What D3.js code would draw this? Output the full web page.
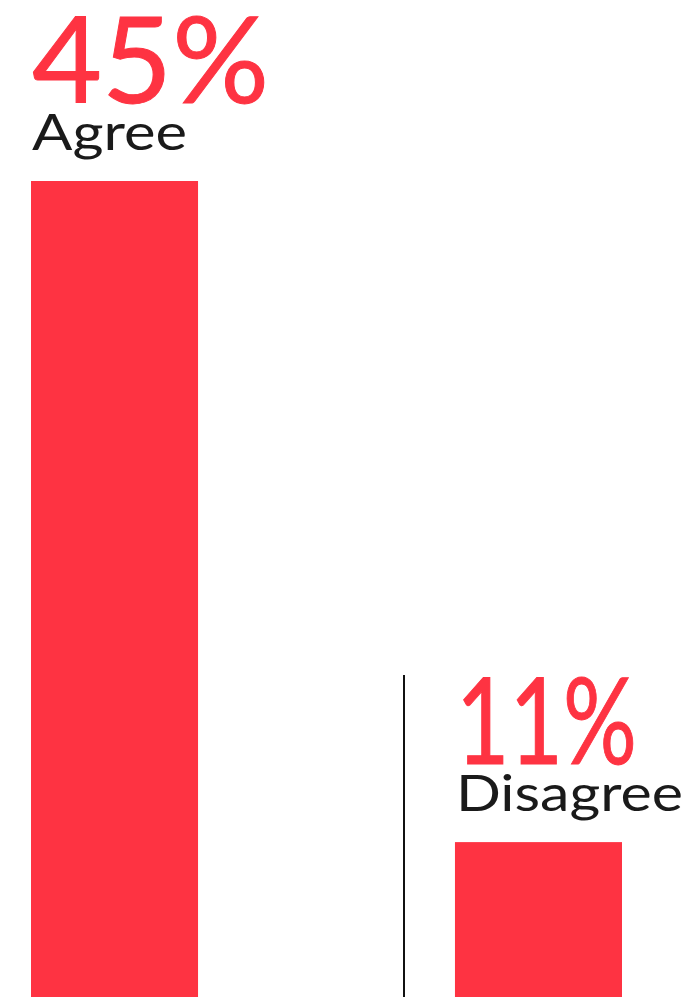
<!DOCTYPE html>
<html>
<head>
<meta charset="utf-8">
<script src="https://cdn.jsdelivr.net/npm/d3@7"></script>
<style>
  html, body { margin: 0; padding: 0; background: #fff; overflow: hidden; }
  svg { display: block; }
  text { font-family: Lato, "Open Sans", sans-serif; }
</style>
</head>
<body>
<svg id="chart" width="698" height="997"></svg>
<script>
// Survey response shares
const categories = ["Agree", "Disagree"];
const values = [45, 11];
const valueLabels = ["45%", "11%"];

const W = 698, H = 997;
const red = "#fe3342";
const ink = "#1a1a1a";

const svg = d3.select("#chart");

// Bars share a baseline that sits below the visible frame
const x = d3.scaleBand().domain(categories).range([31, 622]).paddingInner(0.606).paddingOuter(0);
const y = d3.scaleLinear().domain([0, 45]).range([1056, 181]);

svg.append("g").selectAll("rect")
  .data(categories)
  .join("rect")
  .attr("x", d => x(d))
  .attr("y", (d, i) => y(values[i]))
  .attr("width", x.bandwidth())
  .attr("height", (d, i) => y(0) - y(values[i]))
  .attr("fill", red);

// Divider between the two groups
svg.append("line")
  .attr("x1", 404).attr("x2", 404)
  .attr("y1", 675).attr("y2", H)
  .attr("stroke", "#111").attr("stroke-width", 2);

// Value and category labels stacked above each bar
const labels = svg.append("g").selectAll("g")
  .data(categories)
  .join("g")
  .attr("transform", (d, i) => `translate(${x(d) + 1},${y(values[i])})`);

const valueWidths = [237, 181];
const catWidths = [155, 227];

labels.append("text")
  .attr("y", -78)
  .attr("font-size", 120)
  .attr("fill", red)
  .attr("stroke", red)
  .attr("stroke-width", 1)
  .attr("textLength", (d, i) => valueWidths[i])
  .attr("lengthAdjust", "spacingAndGlyphs")
  .text((d, i) => valueLabels[i]);

labels.append("text")
  .attr("y", -31)
  .attr("font-size", 51)
  .attr("fill", ink)
  .attr("textLength", (d, i) => catWidths[i])
  .attr("lengthAdjust", "spacingAndGlyphs")
  .text(d => d);
</script>
</body>
</html>
